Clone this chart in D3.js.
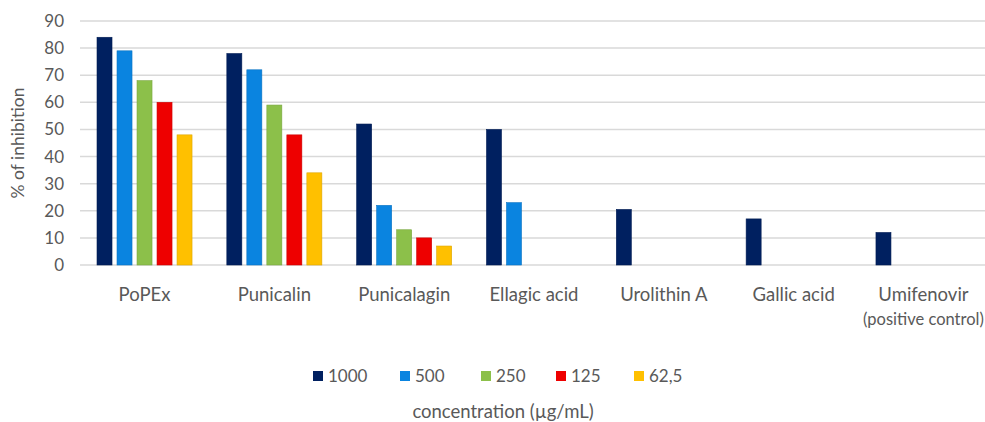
<!DOCTYPE html>
<html>
<head>
<meta charset="utf-8">
<script src="https://cdn.jsdelivr.net/npm/d3@7"></script>
<style>
  body { margin: 0; background: #fff; }
  svg { font-family: Lato, "Open Sans", sans-serif; }
</style>
</head>
<body>
<svg id="chart" width="985" height="422"></svg>
<script>
var compounds = ["PoPEx", "Punicalin", "Punicalagin", "Ellagic acid", "Urolithin A", "Gallic acid", "Umifenovir|(positive control)"];
var concentrations = ["1000", "500", "250", "125", "62,5"];
var colors = ["#002060", "#0a84e0", "#8cc04a", "#ee0000", "#ffc000"];
var yTicks = [0, 10, 20, 30, 40, 50, 60, 70, 80, 90];

// one array per concentration, null where not tested
var c1000 = [84, 78, 52, 50, 20.5, 17, 12];
var c500 = [79, 72, 22, 23, null, null, null];
var c250 = [68, 59, 13, null, null, null, null];
var c125 = [60, 48, 10, null, null, null, null];
var c62 = [48, 34, 7, null, null, null, null];
var series = [c1000, c500, c250, c125, c62];

var svg = d3.select("#chart");

var x0 = d3.scaleBand().domain(compounds).range([80, 988]).paddingInner(0.268).paddingOuter(0.131);
var x1 = d3.scaleBand().domain(concentrations).range([0, x0.bandwidth()]).paddingInner(0.25);
var y = d3.scaleLinear().domain([0, 90]).range([265, 21]);
var color = d3.scaleOrdinal().domain(concentrations).range(colors);

// gridlines
svg.append("g")
  .selectAll("line")
  .data(yTicks)
  .enter()
  .append("line")
  .attr("x1", 80)
  .attr("x2", 985)
  .attr("y1", function (d) { return y(d); })
  .attr("y2", function (d) { return y(d); })
  .attr("stroke", "#d9d9d9")
  .attr("stroke-width", 1.5);

// y tick labels
svg.append("g")
  .selectAll("text")
  .data(yTicks)
  .enter()
  .append("text")
  .attr("x", 64)
  .attr("y", function (d) { return y(d); })
  .attr("dy", "0.35em")
  .attr("text-anchor", "end")
  .attr("font-size", 17)
  .attr("fill", "#595959")
  .text(function (d) { return d; });

svg.append("text")
  .attr("transform", "translate(24,143) rotate(-90)")
  .attr("text-anchor", "middle")
  .attr("font-size", 17.5)
  .attr("fill", "#595959")
  .text("% of inhibition");

// bars
var bars = [];
series.forEach(function (vals, si) {
  vals.forEach(function (v, ci) {
    if (v !== null) {
      bars.push({ comp: compounds[ci], conc: concentrations[si], value: v });
    }
  });
});

svg.append("g")
  .selectAll("rect")
  .data(bars)
  .enter()
  .append("rect")
  .attr("x", function (d) { return x0(d.comp) + x1(d.conc); })
  .attr("y", function (d) { return y(d.value); })
  .attr("width", x1.bandwidth())
  .attr("height", function (d) { return y(0) - y(d.value); })
  .attr("fill", function (d) { return color(d.conc); })
  .attr("stroke", function (d) { return d3.color(color(d.conc)).darker(0.4); })
  .attr("stroke-width", 0.6);

// category labels
var catLabels = svg.append("g")
  .selectAll("text")
  .data(compounds)
  .enter()
  .append("text")
  .attr("x", function (d) { return x0(d) + x0.bandwidth() / 2; })
  .attr("y", 301)
  .attr("text-anchor", "middle")
  .attr("font-size", 18.5)
  .attr("fill", "#595959");

catLabels.each(function (d) {
  var parts = d.split("|");
  var t = d3.select(this);
  parts.forEach(function (p, i) {
    var ts = t.append("tspan")
      .attr("x", t.attr("x"))
      .attr("dy", i === 0 ? 0 : 24)
      .text(p);
    if (i > 0) ts.attr("font-size", 16.5);
  });
});

// legend
var legendX = [313, 400, 481, 556, 634];
var legend = svg.append("g")
  .selectAll("g")
  .data(concentrations)
  .enter()
  .append("g")
  .attr("transform", function (d, i) { return "translate(" + legendX[i] + ",376)"; });

legend.append("rect")
  .attr("x", 0)
  .attr("y", -5)
  .attr("width", 10)
  .attr("height", 10)
  .attr("fill", function (d) { return color(d); });

legend.append("text")
  .attr("x", 15)
  .attr("y", 0)
  .attr("dy", "0.35em")
  .attr("font-size", 17)
  .attr("fill", "#595959")
  .text(function (d) { return d; });

svg.append("text")
  .attr("x", 503)
  .attr("y", 418)
  .attr("text-anchor", "middle")
  .attr("font-size", 18.5)
  .attr("fill", "#595959")
  .text("concentration (\u00b5g/mL)");
</script>
</body>
</html>
